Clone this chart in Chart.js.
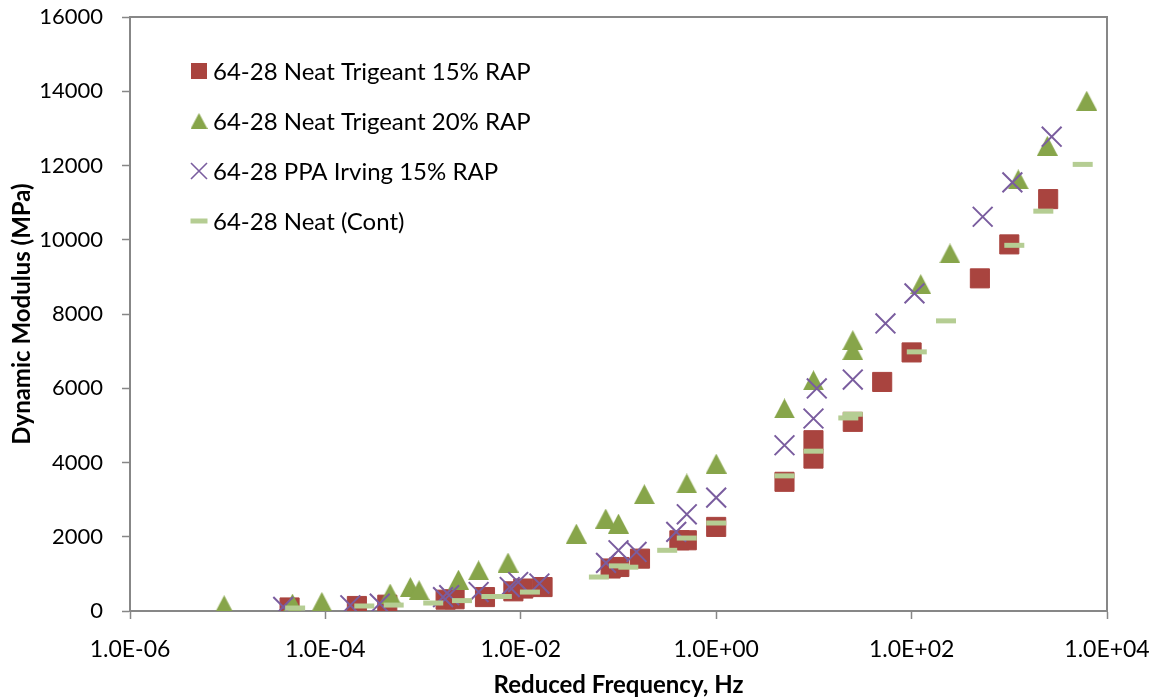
<!DOCTYPE html>
<html>
<head>
<meta charset="utf-8">
<script src="https://cdn.jsdelivr.net/npm/chart.js@4"></script>
<style>
  html, body { margin: 0; padding: 0; background: #fff; }
  #wrap { width: 1159px; height: 700px; }
</style>
</head>
<body>
<div id="wrap"><canvas id="chart" width="1159" height="700"></canvas></div>
<script>
// series labels
const seriesNames = [
  "64-28 Neat Trigeant 15% RAP",
  "64-28 Neat Trigeant 20% RAP",
  "64-28 PPA Irving 15% RAP",
  "64-28 Neat (Cont)"
];

// 64-28 Neat Trigeant 15% RAP
const freq15 = [4.3e-5, 2.1e-4, 4.3e-4, 1.7e-3, 2.1e-3, 4.3e-3, 8.4e-3, 1.06e-2, 1.67e-2, 0.083, 0.102, 0.166, 0.42, 0.5, 1.0, 5.0, 9.9, 9.9, 25, 50, 100, 500, 1000, 2500];
const mod15 = [95, 135, 170, 305, 315, 375, 530, 605, 645, 1145, 1185, 1410, 1905, 1905, 2265, 3480, 4105, 4600, 5095, 6170, 6965, 8960, 9875, 11095];

// 64-28 Neat Trigeant 20% RAP
const freq20 = [9.2e-6, 4.6e-5, 9.2e-5, 4.6e-4, 7.4e-4, 9.1e-4, 2.3e-3, 3.7e-3, 7.4e-3, 0.037, 0.074, 0.1, 0.184, 0.5, 1.0, 5.0, 9.9, 25, 25, 124, 247, 1236, 2450, 6200];
const mod20 = [155, 200, 245, 470, 645, 560, 845, 1095, 1305, 2085, 2490, 2355, 3145, 3435, 3970, 5455, 6215, 7025, 7295, 8805, 9630, 11625, 12530, 13745];

// 64-28 PPA Irving 15% RAP
const freqPPA = [3.7e-5, 1.8e-4, 3.6e-4, 1.6e-3, 1.85e-3, 3.7e-3, 7.7e-3, 9.4e-3, 1.55e-2, 0.0745, 0.1, 0.153, 0.39, 0.5, 1.0, 5.0, 9.9, 10.7, 25, 54, 107, 534, 1075, 2715];
const modPPA = [110, 155, 200, 375, 425, 510, 645, 780, 740, 1295, 1635, 1590, 2130, 2605, 3055, 4465, 5185, 5995, 6235, 7745, 8555, 10620, 11545, 12775];

// 64-28 Neat (Cont)
const freqNeat = [4.9e-5, 2.5e-4, 5e-4, 1.27e-3, 2.5e-3, 5e-3, 6.4e-3, 1.24e-2, 0.063, 0.101, 0.126, 0.315, 0.5, 1.0, 5.0, 9.9, 22.5, 25, 113, 225, 1125, 2230, 5640];
const modNeat = [80, 135, 160, 215, 280, 390, 390, 510, 915, 1215, 1180, 1635, 1965, 2370, 3640, 4305, 5200, 5300, 6980, 7815, 9850, 10770, 12030];

// axis ticks
const xTicks = [1e-6, 1e-4, 1e-2, 1e0, 1e2, 1e4];
const yTicks = [0, 2000, 4000, 6000, 8000, 10000, 12000, 14000, 16000];

const RED = "#A9443F";
const GREEN = "#87A54A";
const PURPLE = "#7A5D9F";
const LIGHT = "#B5CD93";
const AXIS = "#878787";
const FONT = "Lato";

// excel style triangle (as wide as tall)
function triangleImg(w, h, color) {
  const c = document.createElement("canvas");
  c.width = w; c.height = h;
  const g = c.getContext("2d");
  g.fillStyle = color;
  g.beginPath();
  g.moveTo(0, h);
  g.lineTo(w / 2, 0);
  g.lineTo(w, h);
  g.closePath();
  g.fill();
  return c;
}

function pts(xs, ys) {
  return xs.map((x, i) => ({ x: x, y: ys[i] }));
}

function sciLabel(v) {
  const e = Math.round(Math.log10(v));
  return "1.0E" + (e < 0 ? "-" : "+") + String(Math.abs(e)).padStart(2, "0");
}

// legend + plot frame drawn by hand, Excel places it inside the plot
const excelBits = {
  id: "excelBits",
  beforeDatasetsDraw(chart) {
    const { ctx, chartArea: a } = chart;
    ctx.save();
    ctx.strokeStyle = AXIS;
    ctx.lineWidth = 2;
    ctx.beginPath();
    ctx.moveTo(a.left, a.top);
    ctx.lineTo(a.right, a.top);
    ctx.lineTo(a.right, a.bottom);
    ctx.stroke();
    ctx.restore();
  },
  afterDraw(chart) {
    const ctx = chart.ctx;
    const mx = 199, tx = 213, rows = [71, 121, 171, 221];
    ctx.save();
    // markers
    ctx.fillStyle = RED;
    ctx.fillRect(mx - 8, rows[0] - 8, 16, 16);
    ctx.drawImage(triangleImg(17, 16, GREEN), mx - 8.5, rows[1] - 8);
    ctx.strokeStyle = PURPLE;
    ctx.lineWidth = 1.6;
    ctx.beginPath();
    ctx.moveTo(mx - 8, rows[2] - 8); ctx.lineTo(mx + 8, rows[2] + 8);
    ctx.moveTo(mx + 8, rows[2] - 8); ctx.lineTo(mx - 8, rows[2] + 8);
    ctx.stroke();
    ctx.fillStyle = LIGHT;
    ctx.fillRect(mx - 8.5, rows[3] - 2.5, 17, 5);
    // text
    ctx.fillStyle = "#000";
    ctx.font = "24px " + FONT;
    ctx.textBaseline = "middle";
    ctx.textAlign = "left";
    seriesNames.forEach((n, i) => ctx.fillText(n, tx, rows[i] + 1));
    ctx.restore();
  }
};

const ctx = document.getElementById("chart").getContext("2d");

new Chart(ctx, {
  type: "scatter",
  data: {
    datasets: [
      {
        label: seriesNames[0],
        data: pts(freq15, mod15),
        pointStyle: "rect",
        pointRadius: 13.5,
        pointBackgroundColor: RED,
        pointBorderColor: RED,
        pointBorderWidth: 1,
        order: 4
      },
      {
        label: seriesNames[1],
        data: pts(freq20, mod20),
        pointStyle: triangleImg(21, 20, GREEN),
        pointRadius: 10,
        order: 3
      },
      {
        label: seriesNames[2],
        data: pts(freqPPA, modPPA),
        pointStyle: "crossRot",
        pointRadius: 14,
        pointBorderColor: PURPLE,
        pointBorderWidth: 2,
        order: 2
      },
      {
        label: seriesNames[3],
        data: pts(freqNeat, modNeat),
        pointStyle: "line",
        pointRadius: 10,
        pointBorderColor: LIGHT,
        pointBorderWidth: 5,
        order: 1
      }
    ]
  },
  options: {
    responsive: false,
    animation: false,
    devicePixelRatio: 1,
    layout: { padding: { top: 17, right: 52, left: 0, bottom: 0 } },
    plugins: {
      legend: { display: false },
      tooltip: { enabled: false }
    },
    scales: {
      x: {
        type: "logarithmic",
        min: 1e-6,
        max: 1e4,
        afterBuildTicks: (s) => { s.ticks = xTicks.map(v => ({ value: v })); },
        afterFit: (s) => { s.height = 89; s.paddingLeft = 0; s.paddingRight = 0; },
        ticks: {
          autoSkip: false,
          maxRotation: 0,
          padding: 17,
          color: "#000",
          font: { family: FONT, size: 23 },
          callback: (v) => sciLabel(v)
        },
        grid: { drawOnChartArea: false, tickLength: 8, tickColor: AXIS, tickWidth: 1.5 },
        border: { display: true, color: AXIS, width: 2 },
        title: {
          display: true,
          text: "Reduced Frequency, Hz",
          color: "#000",
          font: { family: FONT, size: 24, weight: "bold" },
          padding: { top: 0, bottom: 0 }
        }
      },
      y: {
        min: 0,
        max: 16000,
        afterBuildTicks: (s) => { s.ticks = yTicks.map(v => ({ value: v })); },
        afterFit: (s) => { s.width = 130; s.paddingTop = 0; s.paddingBottom = 0; },
        ticks: {
          padding: 19,
          color: "#000",
          font: { family: FONT, size: 22 },
          callback: (v) => String(v)
        },
        grid: { drawOnChartArea: false, tickLength: 8, tickColor: AXIS, tickWidth: 1.5 },
        border: { display: true, color: AXIS, width: 2 },
        title: {
          display: true,
          text: "Dynamic Modulus (MPa)",
          color: "#000",
          font: { family: FONT, size: 24, weight: "bold" },
          padding: { top: 8, bottom: 0 }
        }
      }
    }
  },
  plugins: [excelBits]
});
</script>
</body>
</html>
